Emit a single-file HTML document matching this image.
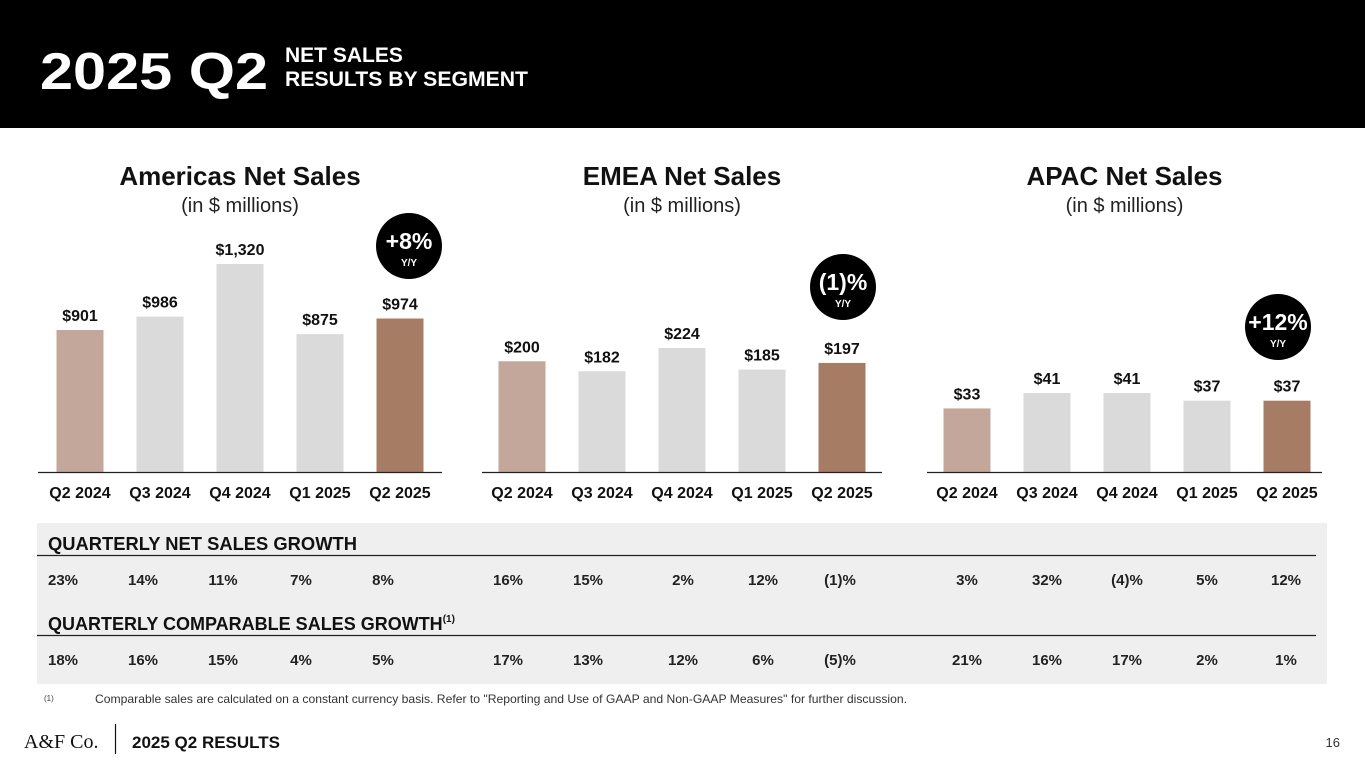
<!DOCTYPE html>
<html><head><meta charset="utf-8"><style>
body{margin:0;width:1365px;height:768px;overflow:hidden;background:#fff;font-family:"Liberation Sans",sans-serif}
svg text{font-family:"Liberation Sans",sans-serif}
</style></head><body>
<svg id="s" width="1365" height="768" viewBox="0 0 1365 768">
<rect x="0" y="0" width="1365" height="128" fill="#000"/>
<text x="40" y="89" font-size="52" font-weight="bold" fill="#fff" textLength="228" lengthAdjust="spacingAndGlyphs">2025 Q2</text>
<text x="285" y="62" font-size="21" font-weight="bold" fill="#fff">NET SALES</text>
<text x="285" y="86" font-size="21" font-weight="bold" fill="#fff" textLength="243" lengthAdjust="spacingAndGlyphs">RESULTS BY SEGMENT</text>
<rect x="37" y="523" width="1290" height="161" fill="#efefef"/>
<text x="48" y="550" font-size="18" font-weight="bold" fill="#111" textLength="309" lengthAdjust="spacingAndGlyphs">QUARTERLY NET SALES GROWTH</text>
<line x1="37" y1="555.5" x2="1316" y2="555.5" stroke="#222" stroke-width="1.2"/>
<text x="48" y="630" font-size="18" font-weight="bold" fill="#111">QUARTERLY COMPARABLE SALES GROWTH<tspan font-size="10" dy="-8">(1)</tspan></text>
<line x1="37" y1="635.5" x2="1316" y2="635.5" stroke="#222" stroke-width="1.2"/>
<text x="44" y="701" font-size="8" fill="#444">(1)</text>
<text x="95" y="703" font-size="12" fill="#333" textLength="812" lengthAdjust="spacingAndGlyphs">Comparable sales are calculated on a constant currency basis. Refer to "Reporting and Use of GAAP and Non-GAAP Measures" for further discussion.</text>
<text x="24" y="748" font-size="20" fill="#111" style="font-family:'Liberation Serif',serif">A&amp;F Co.</text>
<line x1="115.5" y1="724" x2="115.5" y2="754" stroke="#111" stroke-width="1.2"/>
<text x="132" y="748" font-size="17" font-weight="bold" fill="#111">2025 Q2 RESULTS</text>
<text x="1340" y="747" font-size="13" fill="#333" text-anchor="end">16</text>
</svg>
<script>
const categories=["Q2 2024","Q3 2024","Q4 2024","Q1 2025","Q2 2025"];
const americasValues=[901,986,1320,875,974];
const emeaValues=[200,182,224,185,197];
const apacValues=[33,41,41,37,37];
const americasLabels=["$901","$986","$1,320","$875","$974"];
const emeaLabels=["$200","$182","$224","$185","$197"];
const apacLabels=["$33","$41","$41","$37","$37"];
const americasNetGrowth=["23%","14%","11%","7%","8%"];
const emeaNetGrowth=["16%","15%","2%","12%","(1)%"];
const apacNetGrowth=["3%","32%","(4)%","5%","12%"];
const americasCompGrowth=["18%","16%","15%","4%","5%"];
const emeaCompGrowth=["17%","13%","12%","6%","(5)%"];
const apacCompGrowth=["21%","16%","17%","2%","1%"];
const yoy=["+8%","(1)%","+12%"];

const NS="http://www.w3.org/2000/svg";
const svg=document.getElementById('s');
function mk(tag,attrs,txt){const e=document.createElementNS(NS,tag);for(const k in attrs)e.setAttribute(k,attrs[k]);if(txt!=null)e.textContent=txt;svg.appendChild(e);return e;}
const panels=[
 {name:'americas',title:'Americas Net Sales',x0:40,axis:[38,442],scale:208/1320,vals:americasValues,labels:americasLabels,net:americasNetGrowth,comp:americasCompGrowth,tcol:[63,143,223,301,383],circ:[409,246]},
 {name:'emea',title:'EMEA Net Sales',x0:482,axis:[482,882],scale:124/224,vals:emeaValues,labels:emeaLabels,net:emeaNetGrowth,comp:emeaCompGrowth,tcol:[508,588,683,763,840],circ:[843,287]},
 {name:'apac',title:'APAC Net Sales',x0:927,axis:[927,1322],scale:79/41,vals:apacValues,labels:apacLabels,net:apacNetGrowth,comp:apacCompGrowth,tcol:[967,1047,1127,1207,1286],circ:[1278,327]}
];
const base=472,colors=["#c4a79b","#dadada","#dadada","#dadada","#a67c64"];
panels.forEach((p,pi)=>{
 const cx=(p.axis[0]+p.axis[1])/2;
 let t=mk('text',{x:cx,y:185,'font-size':26,'font-weight':'bold','text-anchor':'middle',fill:'#111'},p.title);
 
 
 t=mk('text',{x:cx,y:212,'font-size':20,'text-anchor':'middle',fill:'#222'},'(in $ millions)');
 
 
 const xs=i=>p.x0+40+i*80;
 const ys=v=>base-v*p.scale;
 p.vals.forEach((v,i)=>{
  const r=mk('rect',{x:xs(i)-23.5,y:ys(v),width:47,height:base-ys(v),fill:colors[i]});
  
  
  const l=mk('text',{x:xs(i),y:ys(v)-9,'font-size':16,'font-weight':'bold','text-anchor':'middle',fill:'#111'},p.labels[i]);
  
  
  const c=mk('text',{x:xs(i),y:498,'font-size':16,'font-weight':'bold','text-anchor':'middle',fill:'#111'},categories[i]);
  
  
  const n=mk('text',{x:p.tcol[i],y:585,'font-size':15,'font-weight':'bold','text-anchor':'middle',fill:'#222'},p.net[i]);
  
  
  const m=mk('text',{x:p.tcol[i],y:665,'font-size':15,'font-weight':'bold','text-anchor':'middle',fill:'#222'},p.comp[i]);
  
  
 });
 const ax=mk('line',{x1:p.axis[0],y1:base+0.5,x2:p.axis[1],y2:base+0.5,stroke:'#222','stroke-width':1.2});
 
 
 const ci=mk('circle',{cx:p.circ[0],cy:p.circ[1],r:33,fill:'#000'});
 
 
 const yt=mk('text',{x:p.circ[0],y:p.circ[1]+3,'font-size':23,'font-weight':'bold','text-anchor':'middle',fill:'#fff'},yoy[pi]);
 
 
 const yy=mk('text',{x:p.circ[0],y:p.circ[1]+20,'font-size':10,'font-weight':'bold','text-anchor':'middle',fill:'#fff'},'Y/Y');
 
 
});
</script>
</body></html>
